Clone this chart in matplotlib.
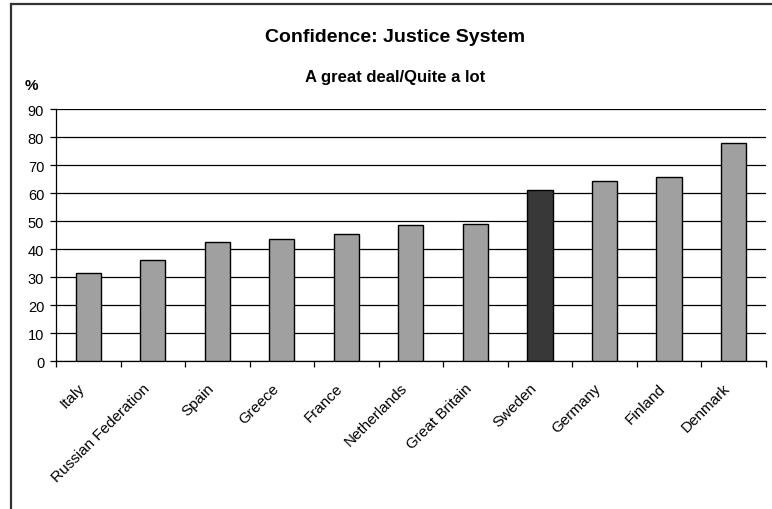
import numpy as np
import matplotlib
matplotlib.use('Agg')
import matplotlib.pyplot as plt
from matplotlib.patches import Rectangle
from matplotlib import transforms

plt.rcParams['font.family'] = ['Liberation Sans', 'DejaVu Sans']

countries = ['Italy', 'Russian Federation', 'Spain', 'Greece', 'France',
             'Netherlands', 'Great Britain', 'Sweden', 'Germany', 'Finland',
             'Denmark']
values = [31.6, 36.1, 42.4, 43.7, 45.5, 48.6, 49.1, 61.1, 64.2, 65.9, 78.0]
highlight = 'Sweden'

fig = plt.figure(figsize=(7.72, 5.10), dpi=100)
ax = fig.add_axes([0.0725, 0.290, 0.9195, 0.494])

# outer chart frame
fig.patches.append(Rectangle((11 / 772, -0.1), 1.2, 1 - 5 / 510 + 0.1,
                             transform=fig.transFigure, fill=False,
                             edgecolor='#333333', linewidth=1.6))

x = np.arange(len(countries))
colors = ['#383838' if c == highlight else '#a0a0a0' for c in countries]
ax.bar(x, values, width=0.39, color=colors, edgecolor='black', linewidth=1.0,
       zorder=3)

ax.set_xlim(-0.5, len(countries) - 0.5)
ax.set_ylim(0, 90)
ax.set_yticks(np.arange(0, 91, 10))
ax.yaxis.grid(True, color='black', linewidth=0.9)
ax.set_axisbelow(True)

ax.set_xticks(np.arange(-0.5, len(countries), 1.0))
ax.set_xticklabels([])
ax.tick_params(axis='x', direction='out', length=4.5, width=0.9)
ax.tick_params(axis='y', direction='out', length=4.5, width=0.9,
               labelsize=10.5, pad=4)

for s in ['top', 'right']:
    ax.spines[s].set_visible(False)
for s in ['left', 'bottom']:
    ax.spines[s].set_linewidth(0.9)

offset = transforms.ScaledTranslation(-7.5 / 72, -14 / 72, fig.dpi_scale_trans)
for i, c in enumerate(countries):
    ax.text(i, 0, c, rotation=45, ha='right', va='top', rotation_mode='anchor',
            fontsize=11, transform=ax.get_xaxis_transform() + offset)

fig.text(0.512, 0.918, 'Confidence: Justice System', ha='center',
         va='baseline', fontsize=14, fontweight='bold')
fig.text(0.512, 0.840, 'A great deal/Quite a lot', ha='center',
         va='baseline', fontsize=12, fontweight='bold')
fig.text(0.040, 0.824, '%', ha='center', va='baseline', fontsize=11,
         fontweight='bold')

fig.savefig('out.png', dpi=100)
